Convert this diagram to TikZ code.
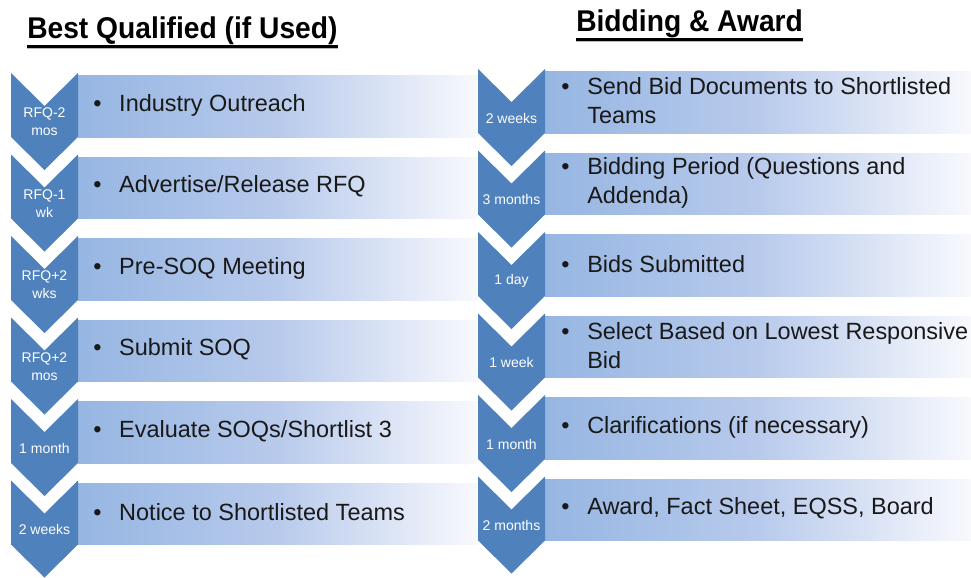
\documentclass[tikz,border=0pt]{standalone}
\usepackage{fontspec}
\setmainfont{Liberation Sans}
\newfontfamily\ttlfont[FakeStretch=0.94]{Liberation Sans}

\definecolor{chevblue}{RGB}{79,129,189}
\definecolor{bandl}{RGB}{150,182,226}
\definecolor{bandm}{RGB}{184,202,236}
\definecolor{bandr}{RGB}{248,249,253}
\newcommand{\brk}{\\\hspace*{19.5pt}}
\newcommand{\ttlsize}{\ttlfont\bfseries\fontsize{22.5}{26}\selectfont}

\begin{document}
\begin{tikzpicture}[x=0.75pt,y=-0.75pt,
  chev/.style={fill=chevblue},
  band/.style={left color=bandl,right color=bandr,middle color=bandm},
  lab/.style={white,align=center,inner sep=0pt,font=\fontsize{10.5}{13.5}\selectfont},
  item/.style={anchor=west,inner sep=0pt,align=left,text=black!90,font=\fontsize{17.6}{21.8}\selectfont},
  ttl/.style={anchor=base west,inner sep=0pt,font=\ttlsize}]
\useasboundingbox (0,0) rectangle (971,578);

% titles
\node[ttl] (ttl-l) at (27,38.5) {Best Qualified (if Used)};
\node[ttl] (ttl-r) at (576,31.7) {Bidding \& Award};
\foreach \t in {ttl-l,ttl-r}{
  \draw[gray!55,line width=1.2pt] ([yshift=-7.3pt]\t.base west)--([yshift=-7.3pt]\t.base east);
  \draw[line width=1.9pt] ([yshift=-6pt]\t.base west)--([yshift=-6pt]\t.base east);
}

% left column
\foreach \i/\tm/\tx in {0/{RFQ-2\\mos}/{Industry Outreach},
    1/{RFQ-1\\wk}/{Advertise/Release RFQ},
    2/{RFQ+2\\wks}/{Pre-SOQ Meeting},
    3/{RFQ+2\\mos}/{Submit SOQ},
    4/{1 month}/{Evaluate SOQs/Shortlist 3},
    5/{2 weeks}/{Notice to Shortlisted Teams}}{
  \pgfmathsetmacro{\T}{73+81.5*\i}
  \fill[band] (78,\T+2.5) rectangle (478,\T+64);
  \fill[chev] (11,\T)--(44.5,\T+33)--(78,\T)--(78,\T+64)--(44.5,\T+97)--(11,\T+64)--cycle;
  \node[lab] (lab-l\i) at (44.5,\T+49) {\tm};
  \node[item] (txt-l\i) at (93,\T+32) {\makebox[19.5pt][l]{\textbullet}\tx};
}

% right column
\foreach \i/\tm/\tx in {0/{2 weeks}/{Send Bid Documents to Shortlisted\brk Teams},
    1/{3 months}/{Bidding Period (Questions and\brk Addenda)},
    2/{1 day}/{Bids Submitted},
    3/{1 week}/{Select Based on Lowest Responsive\brk Bid},
    4/{1 month}/{Clarifications (if necessary)},
    5/{2 months}/{Award, Fact Sheet, EQSS, Board}}{
  \pgfmathsetmacro{\T}{69+81.5*\i}
  \fill[band] (545,\T+2.5) rectangle (971,\T+64);
  \fill[chev] (478,\T)--(511.5,\T+33)--(545,\T)--(545,\T+64)--(511.5,\T+97)--(478,\T+64)--cycle;
  \node[lab] (lab-r\i) at (511.5,\T+49) {\tm};
  \node[item] (txt-r\i) at (561,\T+32) {\makebox[19.5pt][l]{\textbullet}\tx};
}
\end{tikzpicture}
\end{document}
